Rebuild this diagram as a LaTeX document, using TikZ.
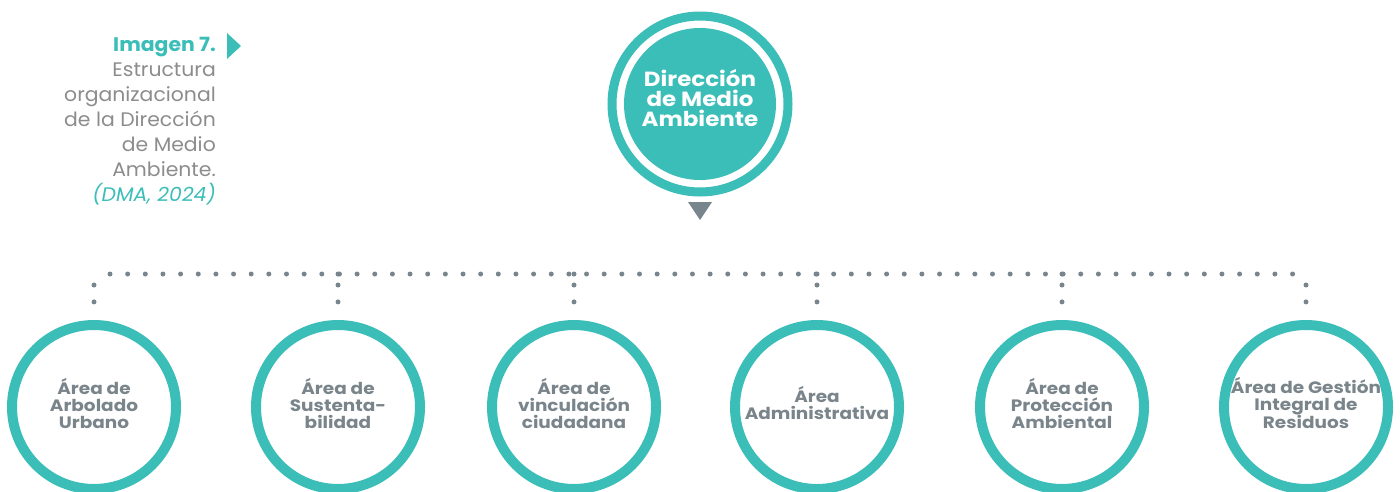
\documentclass[tikz,border=0pt]{standalone}
\usepackage{fontspec}
\setmainfont{Poppins}
\newfontfamily\widefont[FakeStretch=1.12]{Poppins}
\newfontfamily\capfont[FakeStretch=1.04]{Poppins}
\usetikzlibrary{calc}
\definecolor{tealc}{HTML}{3BBDB8}
\definecolor{greytxt}{HTML}{7A858B}
\definecolor{greydot}{HTML}{78858D}
\definecolor{captxt}{HTML}{8C8C8C}
\begin{document}
\begin{tikzpicture}[x=1pt,y=-1pt,
  area/.style={circle, draw=tealc, line width=10pt, minimum size=164pt, inner sep=0pt,
    font=\widefont\fontsize{16.5}{17}\selectfont\bfseries, text=greytxt, align=center, text depth=8pt},
  ring/.style={circle, draw=tealc, line width=9pt, minimum size=176pt, inner sep=0pt},
  direc/.style={circle, fill=tealc, minimum size=152pt, inner sep=0pt, text=white,
    font=\widefont\fontsize{20.5}{20}\selectfont\bfseries, align=center, text depth=12pt},
  dotline/.style={greydot, line width=5pt, line cap=round, dash pattern=on 0pt off 17.65pt},
  dotv/.style={greydot, line width=5pt, line cap=round, dash pattern=on 0pt off 16.9pt},
  caption/.style={align=right, inner sep=0pt, text=captxt, font=\capfont\fontsize{19.6}{25}\selectfont}]
\useasboundingbox (0,0) rectangle (1400,491);

% caption
\node[caption, anchor=north east] (cap) at (216,37)
  {{\bfseries\color{tealc}Imagen 7.}\\Estructura\\organizacional\\de la Dirección\\de Medio\\Ambiente.\\{\itshape\color{tealc}(DMA, 2024)}};
\fill[tealc] (227,33) -- (227,59) -- (241,46) -- cycle;

% top node
\node[ring] (ring) at (700,104) {};
\node[direc] (top) at (700,104) {Dirección\\de Medio\\Ambiente};
\fill[greydot] ($(ring.south)+(-12,5.5)$) -- ++(24,0) -- ++(-12,18) -- cycle;

% children
\node[area] (a1) at (94,407)   {Área de\\Arbolado\\Urbano};
\node[area] (a2) at (338,407)  {Área de\\Sustenta-\\bilidad};
\node[area] (a3) at (574,407)  {Área de\\vinculación\\ciudadana};
\node[area] (a4) at (817,407)  {Área\\Administrativa};
\node[area] (a5) at (1062,407) {Área de\\Protección\\Ambiental};
\node[area] (a6) at (1306,407) {Área de Gestión\\Integral de\\Residuos};

% dotted connectors
\coordinate (hl) at (110,274);
\coordinate (hr) at (1297,274);
\draw[dotline] (hl) -- (hr);
\foreach \n in {a1,a2,a3,a4,a5,a6}{
  \draw[dotv] ($(\n.north)+(0,-35)$) -- ($(\n.north)+(0,-18)$);
}
\foreach \n in {a2,a3,a4,a5}{
  \fill[greydot] (\n.north |- hl) circle[radius=2.5pt];
}
\end{tikzpicture}
\end{document}
